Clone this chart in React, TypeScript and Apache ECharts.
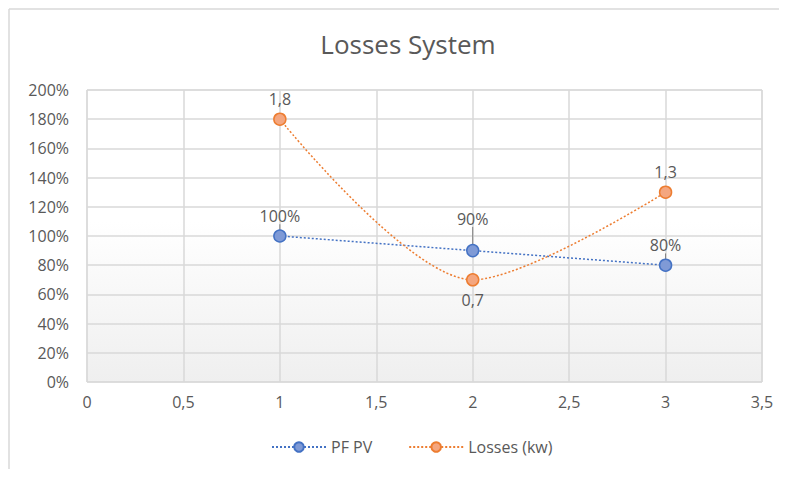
import React, { useEffect, useRef } from "react";
import * as echarts from "echarts";

const xValues = [1, 2, 3];
const pfPv = [1.0, 0.9, 0.8];
const losses = [1.8, 0.7, 1.3];
const lossLabels = ["1,8", "0,7", "1,3"];
const pfLabels = ["100%", "90%", "80%"];

const FONT = "'Open Sans', 'Liberation Sans', sans-serif";
const TXT = "#595959";

export default function App() {
  const ref = useRef<HTMLDivElement>(null);
  useEffect(() => {
    const chart = echarts.init(ref.current!, null, { renderer: "svg" });
    chart.setOption({
      animation: false,
      backgroundColor: "#ffffff",
      textStyle: { fontFamily: FONT },
      title: {
        text: "Losses System",
        left: 403,
        textAlign: "center",
        top: 26,
        textStyle: { fontFamily: FONT, fontSize: 26, fontWeight: "normal", color: TXT },
      },
      graphic: [
        {
          type: "line",
          shape: { x1: 9, y1: 9, x2: 787, y2: 9 },
          style: { stroke: "#d9d9d9", lineWidth: 1.5 },
          silent: true,
          z: -10,
        },
        {
          type: "line",
          shape: { x1: 9, y1: 9, x2: 9, y2: 477 },
          style: { stroke: "#d9d9d9", lineWidth: 1.5 },
          silent: true,
          z: -10,
        },
      ],
      grid: {
        left: 87,
        right: 25,
        top: 90,
        bottom: 95,
        show: true,
        borderColor: "#d9d9d9",
        borderWidth: 1,
        backgroundColor: {
          type: "linear",
          x: 0,
          y: 0,
          x2: 0,
          y2: 1,
          colorStops: [
            { offset: 0, color: "#ffffff" },
            { offset: 0.45, color: "#ffffff" },
            { offset: 1, color: "#efefef" },
          ],
        },
      },
      legend: {
        bottom: 17,
        left: 266,
        itemWidth: 54,
        itemHeight: 12,
        itemGap: 36,
        textStyle: { fontFamily: FONT, fontSize: 16, color: TXT },
        data: ["PF PV", "Losses (kw)"],
      },
      xAxis: {
        type: "value",
        min: 0,
        max: 3.5,
        interval: 0.5,
        axisLine: { show: false },
        axisTick: { show: false },
        splitLine: { show: true, lineStyle: { color: "#d9d9d9", width: 1.5 } },
        axisLabel: {
          margin: 12,
          fontSize: 16,
          color: TXT,
          fontFamily: FONT,
          formatter: (v: number) => String(v).replace(".", ","),
        },
      },
      yAxis: {
        type: "value",
        min: 0,
        max: 2,
        interval: 0.2,
        axisLine: { show: false },
        axisTick: { show: false },
        splitLine: { show: true, lineStyle: { color: "#d9d9d9", width: 1.5 } },
        axisLabel: {
          margin: 18,
          fontSize: 16,
          color: TXT,
          fontFamily: FONT,
          formatter: (v: number) => Math.round(v * 100) + "%",
        },
      },
      series: [
        {
          name: "PF PV",
          type: "line",
          data: xValues.map((x, i) => ({
            value: [x, pfPv[i]],
            label: {
              formatter: pfLabels[i],
            },
          })),
          symbol: "circle",
          symbolSize: 12,
          lineStyle: { color: "#4472c4", width: 1.5, type: [2, 2] },
          itemStyle: { color: "#7f9ad6", borderColor: "#4472c4", borderWidth: 1.5 },
          label: {
            show: true,
            position: "top",
            distance: 5,
            fontSize: 16,
            color: TXT,
            fontFamily: FONT,
          },
          labelLayout: (p: any) => (p.dataIndex === 1 ? { dy: -12 } : {}),
          labelLine: { show: true, lineStyle: { color: "#7f7f7f", width: 1 } },
          z: 3,
        },
        {
          name: "Losses (kw)",
          type: "line",
          smooth: 0.3,
          data: xValues.map((x, i) => ({
            value: [x, losses[i]],
            label: {
              formatter: lossLabels[i],
              position: i === 1 ? "bottom" : "top",
            },
          })),
          symbol: "circle",
          symbolSize: 12,
          lineStyle: { color: "#ed7d31", width: 1.5, type: [2, 2] },
          itemStyle: { color: "#f4a67f", borderColor: "#ed7d31", borderWidth: 1.5 },
          label: {
            show: true,
            position: "top",
            fontSize: 16,
            color: TXT,
            fontFamily: FONT,
            distance: 5,
          },
          z: 4,
        },
      ],
    });
    return () => chart.dispose();
  }, []);
  return <div ref={ref} style={{ width: 787, height: 477, margin: -8 }} />;
}
